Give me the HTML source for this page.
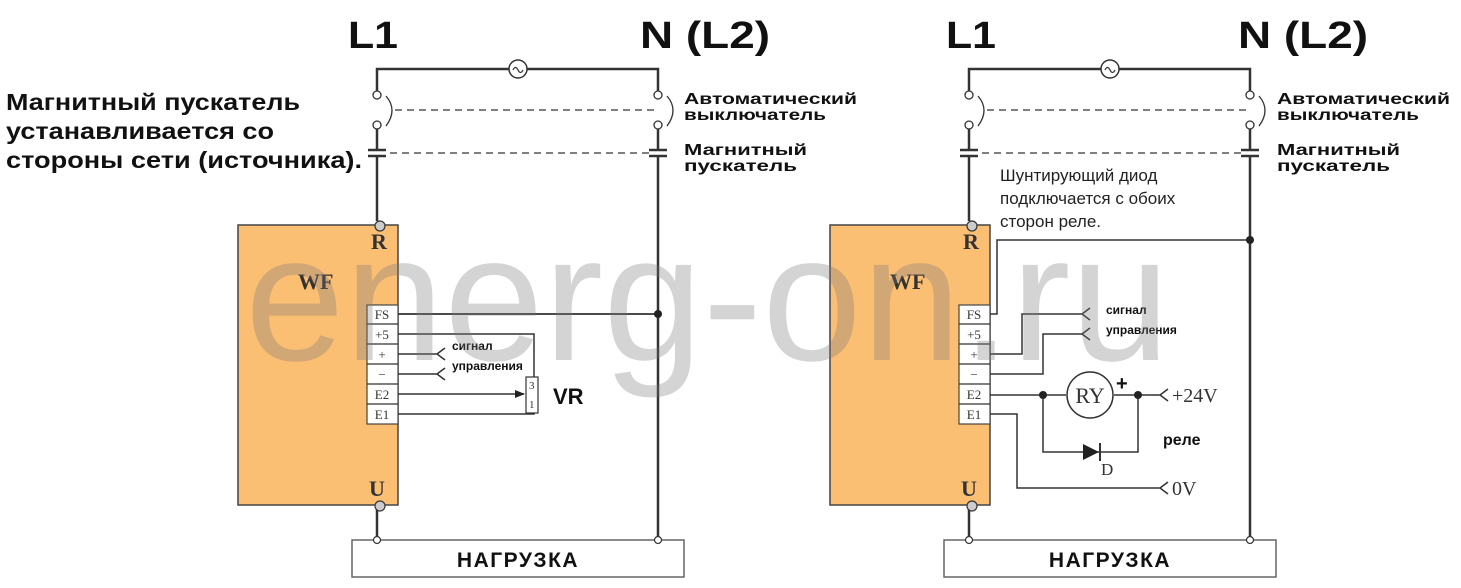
<!DOCTYPE html>
<html><head><meta charset="utf-8"><style>
html,body{margin:0;padding:0;background:#fff;width:1461px;height:588px;overflow:hidden}
svg{display:block}
.b{font-family:"Liberation Sans","DejaVu Sans",sans-serif;font-weight:bold;fill:#111}
.s{font-family:"Liberation Serif",serif;fill:#333}
</style></head><body>
<svg width="1461" height="588" viewBox="0 0 1461 588" xmlns="http://www.w3.org/2000/svg">
<defs>
<marker id="ar" markerWidth="10" markerHeight="8" refX="9" refY="4" orient="auto" markerUnits="userSpaceOnUse"><path d="M0,0 L10,4 L0,8 Z" fill="#222"/></marker>
</defs>

<!-- LEFT -->
<g stroke="#333" fill="none">
<rect x="238" y="225" width="160" height="280" fill="#fbbf73" stroke="#444" stroke-width="1.5"/>
<path d="M377,95 V69 H509 M527,69 H658 V95" stroke-width="2.5"/>
<circle cx="518" cy="69" r="9" stroke-width="1.5" fill="#fff"/>
<path d="M513,70 q2.5,-5 5,0 t5,0" stroke-width="1.3"/>
<circle cx="377" cy="95" r="4" fill="#fff" stroke-width="1.3"/>
<circle cx="377" cy="125" r="4" fill="#fff" stroke-width="1.3"/>
<circle cx="658" cy="95" r="4" fill="#fff" stroke-width="1.3"/>
<circle cx="658" cy="125" r="4" fill="#fff" stroke-width="1.3"/>
<path d="M386,96 q12,14 0,30 M667,96 q12,14 0,30" stroke-width="1.3"/>
<path d="M395,110 H655 M390,153 H650" stroke-dasharray="7,5" stroke-width="1.3"/>
<path d="M377,129 V150 M368,150 H386 M368,156 H386 M377,156 V221" stroke-width="2.5"/>
<path d="M658,129 V150 M649,150 H667 M649,156 H667 M658,156 V536" stroke-width="2.5"/>
<path d="M377,509 V536" stroke-width="2.5"/>
<rect x="352" y="540" width="332" height="37" fill="#fff" stroke="#666" stroke-width="1.5"/>
<rect x="367" y="305" width="31" height="119" fill="#fff" stroke="#444" stroke-width="1.2"/>
<path d="M367,324 H398 M367,344 H398 M367,364 H398 M367,384 H398 M367,404 H398" stroke-width="1.2"/>
<path d="M398,314 H658" stroke-width="1.8"/>
<circle cx="658" cy="314" r="4" fill="#222" stroke="none"/>
<path d="M398,334 H534 V377" stroke-width="1.5"/>
<path d="M398,354 H437 M445,348 L437,354 L445,360 M398,374 H437 M445,368 L437,374 L445,380" stroke-width="1.5"/>
<path d="M398,394 H524" stroke-width="1.5" marker-end="url(#ar)"/>
<path d="M398,414 H534 V413" stroke-width="1.5"/>
<rect x="526" y="377" width="12" height="36" fill="#fff" stroke-width="1.2"/>
<g stroke-width="1.2" fill="#ccc"><circle cx="380" cy="226" r="5"/><circle cx="380" cy="506" r="5"/><circle cx="377" cy="540" r="3.5" fill="#fff"/><circle cx="658" cy="540" r="3.5" fill="#fff"/></g>
</g>
<text x="371" y="249" class="s" font-size="22" font-weight="bold" fill="#222">R</text>
<text x="369" y="496" class="s" font-size="22" font-weight="bold" fill="#222">U</text>
<text x="298" y="289" class="s" font-size="22" font-weight="bold" fill="#222">WF</text>
<g class="s" font-size="13" text-anchor="middle"><text x="382" y="319">FS</text><text x="382" y="339">+5</text><text x="382" y="359">+</text><text x="382" y="379">−</text><text x="382" y="399">E2</text><text x="382" y="419">E1</text></g>
<g class="s" font-size="11"><text x="529" y="389">3</text><text x="529" y="408">1</text></g>
<text x="553" y="404" class="b" font-size="22">VR</text>
<text x="452" y="350" class="b" font-size="12">сигнал</text>
<text x="452" y="370" class="b" font-size="12">управления</text>
<text x="518" y="567" class="b" font-size="21" text-anchor="middle" letter-spacing="1.5">НАГРУЗКА</text>
<text x="348" y="48" class="b" font-size="38" textLength="50" lengthAdjust="spacingAndGlyphs">L1</text>
<text x="640" y="48" class="b" font-size="38" textLength="130" lengthAdjust="spacingAndGlyphs">N (L2)</text>
<text x="684" y="104" class="b" font-size="16" textLength="173" lengthAdjust="spacingAndGlyphs">Автоматический</text>
<text x="684" y="120" class="b" font-size="16" textLength="142" lengthAdjust="spacingAndGlyphs">выключатель</text>
<text x="684" y="155" class="b" font-size="16" textLength="123" lengthAdjust="spacingAndGlyphs">Магнитный</text>
<text x="684" y="171" class="b" font-size="16" textLength="113" lengthAdjust="spacingAndGlyphs">пускатель</text>
<text x="6" y="110" class="b" font-size="23" textLength="294" lengthAdjust="spacingAndGlyphs">Магнитный пускатель</text>
<text x="6" y="139" class="b" font-size="23" textLength="268" lengthAdjust="spacingAndGlyphs">устанавливается со</text>
<text x="6" y="168" class="b" font-size="23" textLength="356" lengthAdjust="spacingAndGlyphs">стороны сети (источника).</text>

<!-- RIGHT -->
<g transform="translate(592,0)">
<g stroke="#333" fill="none">
<rect x="238" y="225" width="160" height="280" fill="#fbbf73" stroke="#444" stroke-width="1.5"/>
<path d="M377,95 V69 H509 M527,69 H658 V95" stroke-width="2.5"/>
<circle cx="518" cy="69" r="9" stroke-width="1.5" fill="#fff"/>
<path d="M513,70 q2.5,-5 5,0 t5,0" stroke-width="1.3"/>
<circle cx="377" cy="95" r="4" fill="#fff" stroke-width="1.3"/>
<circle cx="377" cy="125" r="4" fill="#fff" stroke-width="1.3"/>
<circle cx="658" cy="95" r="4" fill="#fff" stroke-width="1.3"/>
<circle cx="658" cy="125" r="4" fill="#fff" stroke-width="1.3"/>
<path d="M386,96 q12,14 0,30 M667,96 q12,14 0,30" stroke-width="1.3"/>
<path d="M395,110 H655 M390,153 H650" stroke-dasharray="7,5" stroke-width="1.3"/>
<path d="M377,129 V150 M368,150 H386 M368,156 H386 M377,156 V221" stroke-width="2.5"/>
<path d="M658,129 V150 M649,150 H667 M649,156 H667 M658,156 V536" stroke-width="2.5"/>
<path d="M377,509 V536" stroke-width="2.5"/>
<rect x="352" y="540" width="332" height="37" fill="#fff" stroke="#666" stroke-width="1.5"/>
<rect x="367" y="305" width="31" height="119" fill="#fff" stroke="#444" stroke-width="1.2"/>
<path d="M367,324 H398 M367,344 H398 M367,364 H398 M367,384 H398 M367,404 H398" stroke-width="1.2"/>
<path d="M398,314 H405 V240 H658" stroke-width="1.5"/>
<circle cx="658" cy="240" r="4" fill="#222" stroke="none"/>
<path d="M398,354 H430 V314 H490 M498,308 L490,314 L498,320" stroke-width="1.5"/>
<path d="M398,374 H451 V334 H490 M498,328 L490,334 L498,340" stroke-width="1.5"/>
<path d="M398,395 H474 M522,395 H568 M576,389 L568,395 L576,401" stroke-width="1.5"/>
<circle cx="498" cy="395" r="23" fill="#fff" stroke-width="1.5"/>
<path d="M451,395 V452 H546 V395" stroke-width="1.5"/>
<path d="M491,444 L507,452 L491,460 Z" fill="#222" stroke="none"/>
<path d="M508,443 V461" stroke-width="2"/>
<circle cx="451" cy="395" r="4" fill="#222" stroke="none"/>
<circle cx="546" cy="395" r="4" fill="#222" stroke="none"/>
<path d="M398,414 H425 V488 H568 M576,482 L568,488 L576,494" stroke-width="1.5"/>
<g stroke-width="1.2" fill="#ccc"><circle cx="380" cy="226" r="5"/><circle cx="380" cy="506" r="5"/><circle cx="377" cy="540" r="3.5" fill="#fff"/><circle cx="658" cy="540" r="3.5" fill="#fff"/></g>
</g>
<text x="371" y="249" class="s" font-size="22" font-weight="bold" fill="#222">R</text>
<text x="369" y="496" class="s" font-size="22" font-weight="bold" fill="#222">U</text>
<text x="298" y="289" class="s" font-size="22" font-weight="bold" fill="#222">WF</text>
<g class="s" font-size="13" text-anchor="middle"><text x="382" y="319">FS</text><text x="382" y="339">+5</text><text x="382" y="359">+</text><text x="382" y="379">−</text><text x="382" y="399">E2</text><text x="382" y="419">E1</text></g>
<text x="498" y="403" class="s" font-size="22" text-anchor="middle">RY</text>
<text x="524" y="390" class="b" font-size="20">+</text>
<text x="509" y="475" class="s" font-size="17">D</text>
<text x="580" y="402" class="s" font-size="20">+24V</text>
<text x="580" y="495" class="s" font-size="20">0V</text>
<text x="571" y="445" class="b" font-size="16">реле</text>
<text x="514" y="314" class="b" font-size="12">сигнал</text>
<text x="514" y="334" class="b" font-size="12">управления</text>
<text x="408" y="181" font-family="'Liberation Sans','DejaVu Sans',sans-serif" font-size="17" fill="#222">Шунтирующий диод</text>
<text x="408" y="204" font-family="'Liberation Sans','DejaVu Sans',sans-serif" font-size="17" fill="#222">подключается с обоих</text>
<text x="408" y="227" font-family="'Liberation Sans','DejaVu Sans',sans-serif" font-size="17" fill="#222">сторон реле.</text>
<text x="518" y="567" class="b" font-size="21" text-anchor="middle" letter-spacing="1.5">НАГРУЗКА</text>
<text x="354" y="48" class="b" font-size="38" textLength="50" lengthAdjust="spacingAndGlyphs">L1</text>
<text x="646" y="48" class="b" font-size="38" textLength="130" lengthAdjust="spacingAndGlyphs">N (L2)</text>
<text x="685" y="104" class="b" font-size="16" textLength="173" lengthAdjust="spacingAndGlyphs">Автоматический</text>
<text x="685" y="120" class="b" font-size="16" textLength="142" lengthAdjust="spacingAndGlyphs">выключатель</text>
<text x="685" y="155" class="b" font-size="16" textLength="123" lengthAdjust="spacingAndGlyphs">Магнитный</text>
<text x="685" y="171" class="b" font-size="16" textLength="113" lengthAdjust="spacingAndGlyphs">пускатель</text>
</g>

<!-- watermark -->
<text x="245" y="360" font-family="'Liberation Sans',sans-serif" font-size="180" textLength="925" lengthAdjust="spacingAndGlyphs" fill="rgba(120,120,120,0.32)">energ-on.ru</text>
</svg>
</body></html>
